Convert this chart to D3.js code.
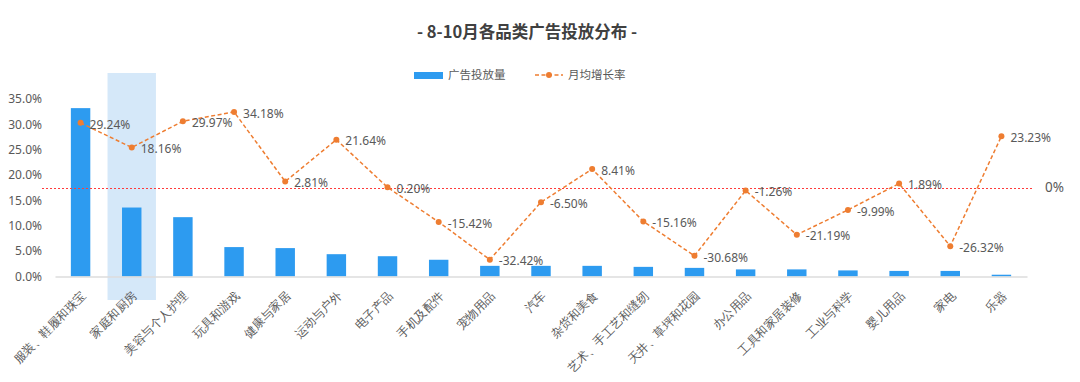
<!DOCTYPE html>
<html><head><meta charset="utf-8">
<script src="https://cdn.jsdelivr.net/npm/d3@7"></script>
<style>
body{margin:0;background:#fff;}
svg{display:block;font-family:"Noto Sans CJK SC","Noto Sans",sans-serif;}
</style>
</head><body>
<svg id="chart" width="1080" height="382"></svg>
<script>
const title = "- 8-10月各品类广告投放分布 -";
const categories = ["服装、鞋履和珠宝","家庭和厨房","美容与个人护理","玩具和游戏","健康与家居","运动与户外","电子产品","手机及配件","宠物用品","汽车","杂货和美食","艺术、手工艺和缝纫","天井、草坪和花园","办公用品","工具和家居装修","工业与科学","婴儿用品","家电","乐器"];
const adVolume = [0.332,0.136,0.117,0.058,0.056,0.044,0.040,0.033,0.021,0.021,0.021,0.019,0.017,0.014,0.014,0.012,0.011,0.011,0.0035];
const growthRate = [0.2924,0.1816,0.2997,0.3418,0.0281,0.2164,0.0020,-0.1542,-0.3242,-0.0650,0.0841,-0.1516,-0.3068,-0.0126,-0.2119,-0.0999,0.0189,-0.2632,0.2323];
const leftTicks = [0,0.05,0.10,0.15,0.20,0.25,0.30,0.35];
const seriesNames = ["广告投放量","月均增长率"];
const highlighted = "家庭和厨房";

const svg = d3.select("#chart");
const plot = {left:55, right:1027, top:99, bottom:276.5};

const x = d3.scaleBand().domain(categories).range([plot.left, plot.right]).paddingInner(0.62).paddingOuter(0.31);
const yL = d3.scaleLinear().domain([0,0.35]).range([plot.bottom, plot.top]);
const yR = d3.scaleLinear().domain([-0.4,0.4]).range([plot.bottom, plot.top]);
const cx = d => x(d) + x.bandwidth()/2;

const txt = "#595959";
const blue = "#2d9bf0";
const orange = "#ee7d31";

// title
svg.append("text").attr("x",527).attr("y",38).attr("text-anchor","middle")
  .attr("font-size",16.5).attr("font-weight","bold").attr("fill","#404040").text(title);

// legend
const lg = svg.append("g");
lg.append("rect").attr("x",414).attr("y",72).attr("width",29).attr("height",7).attr("fill",blue);
lg.append("text").attr("x",448).attr("y",75).attr("dy","0.35em").attr("font-size",11.5).attr("fill",txt).text(seriesNames[0]);
lg.append("line").attr("x1",535).attr("x2",563).attr("y1",75).attr("y2",75).attr("stroke",orange).attr("stroke-width",1.5).attr("stroke-dasharray","4,2.5");
lg.append("circle").attr("cx",549).attr("cy",75).attr("r",3).attr("fill",orange);
lg.append("text").attr("x",568).attr("y",75).attr("dy","0.35em").attr("font-size",11.5).attr("fill",txt).text(seriesNames[1]);

// highlight band
svg.append("rect").attr("x",cx(highlighted)-24.2).attr("y",73).attr("width",48.4).attr("height",227).attr("fill","#d5e8f9");

// left axis
const yAxis = d3.axisLeft(yL).tickValues(leftTicks).tickFormat(d3.format(".1%")).tickSize(0).tickPadding(0);
const ga = svg.append("g").attr("transform","translate(42,0)").call(yAxis);
ga.select(".domain").remove();
ga.selectAll("text").attr("font-size",12).attr("fill",txt).attr("font-family","'Noto Sans','Noto Sans CJK SC',sans-serif");

// bars
svg.append("g").selectAll("rect").data(categories).join("rect")
  .attr("x",d=>x(d)).attr("width",x.bandwidth())
  .attr("y",(d,i)=>yL(adVolume[i])).attr("height",(d,i)=>yL(0)-yL(adVolume[i]))
  .attr("fill",blue);

// baseline axis
const xAxis = d3.axisBottom(x).tickSize(0).tickPadding(0);
const gx = svg.append("g").attr("transform",`translate(0,${plot.bottom})`).call(xAxis);
gx.select(".domain").attr("stroke","#dcdcdc").attr("stroke-width",1.5);
gx.selectAll(".tick text")
  .attr("font-size",12).attr("fill",txt)
  .attr("text-anchor","end")
  .attr("transform","translate(3,17) rotate(-45)")
  .attr("dy","0.35em").attr("y",0).attr("x",0);

// zero reference line for growth
const zy = Math.round(yR(0)) + 0.5;
svg.append("line").attr("x1",42).attr("x2",1033).attr("y1",zy).attr("y2",zy)
  .attr("stroke","#ff3b3b").attr("stroke-width",1).attr("stroke-dasharray","2,2")
  .attr("shape-rendering","crispEdges");
svg.append("text").attr("x",1045).attr("y",yR(0)).attr("dy","0.35em").attr("font-size",13.5).attr("fill",txt)
  .attr("font-family","'Noto Sans',sans-serif").text(d3.format(".0%")(0));

// growth line
const line = d3.line().x((d,i)=>cx(categories[i])).y(d=>yR(d));
svg.append("path").datum(growthRate).attr("d",line).attr("fill","none")
  .attr("stroke",orange).attr("stroke-width",1.5).attr("stroke-dasharray","4,2.5");
svg.append("g").selectAll("circle").data(growthRate).join("circle")
  .attr("cx",(d,i)=>cx(categories[i])).attr("cy",d=>yR(d)).attr("r",3).attr("fill",orange);
svg.append("g").selectAll("text").data(growthRate).join("text")
  .attr("x",(d,i)=>cx(categories[i])+9).attr("y",d=>yR(d)+1.5).attr("dy","0.35em")
  .attr("font-size",12).attr("fill",txt).attr("font-family","'Noto Sans',sans-serif")
  .text(d=>(d*100).toFixed(2)+"%");
</script>
</body></html>
